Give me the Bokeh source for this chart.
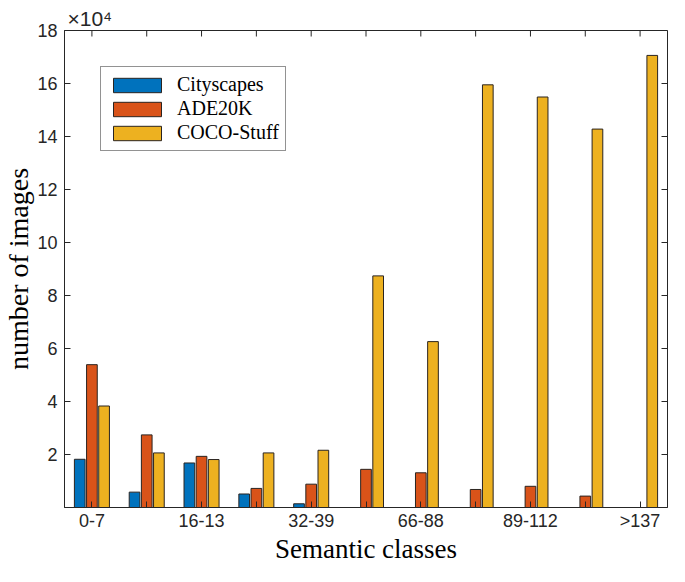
import numpy as np
from bokeh.plotting import figure
from bokeh.models import (Range1d, FixedTicker, Legend, LegendItem, Title)
from bokeh.embed import file_html
from bokeh.resources import INLINE

# ---- data (values in units of 10^4 images) ----
tick_labels = ["0-7", "", "16-13", "", "32-39", "", "66-88", "", "89-112", "", ">137"]
series_names = ["Cityscapes", "ADE20K", "COCO-Stuff"]
cityscapes = [1.82, 0.58, 1.68, 0.51, 0.14, 0.0, 0.0, 0.0, 0.0, 0.0, 0.0]
ade20k = [5.39, 2.74, 1.93, 0.72, 0.88, 1.44, 1.31, 0.68, 0.80, 0.43, 0.0]
coco_stuff = [3.83, 2.06, 1.81, 2.06, 2.16, 8.74, 6.26, 15.95, 15.49, 14.28, 17.06]
y_ticks = [2, 4, 6, 8, 10, 12, 14, 16, 18]

colors = ["#0072BD", "#D95319", "#EDB120"]
offsets = [-0.222, 0.0, 0.222]
bar_w = 0.195
ink = "#262626"

groups = np.arange(1, len(tick_labels) + 1)
labeled = [int(g) for g, lab in zip(groups, tick_labels) if lab]
unlabeled = [int(g) for g, lab in zip(groups, tick_labels) if not lab]

xr = Range1d(0.5, len(tick_labels) + 0.5)
yr = Range1d(0, 18)
p = figure(width=669, height=566, output_backend="svg", toolbar_location=None,
           x_range=xr, y_range=yr,
           min_border_left=64, min_border_right=2, min_border_top=30, min_border_bottom=56)
p.xgrid.visible = False
p.ygrid.visible = False
p.outline_line_color = ink
p.outline_line_width = 1
p.background_fill_color = "white"
p.border_fill_color = "white"

renderers = []
for vals, col, off in zip([cityscapes, ade20k, coco_stuff], colors, offsets):
    r = p.vbar(x=groups + off, top=vals, width=bar_w, bottom=0,
               fill_color=col, line_color="#2a2420", line_width=1)
    renderers.append(r)

# bottom axis: labelled ticks as major, the rest as minor ticks
xa = p.xaxis[0]
xa.ticker = FixedTicker(ticks=labeled, minor_ticks=unlabeled)
xa.major_label_overrides = {int(g): lab for g, lab in zip(groups, tick_labels) if lab}
xa.axis_label = "Semantic classes"
# left axis
ya = p.yaxis[0]
ya.ticker = FixedTicker(ticks=y_ticks)
ya.axis_label = "number of images"

for ax in (xa, ya):
    ax.major_tick_in = 6
    ax.major_tick_out = 0
    ax.minor_tick_in = 6
    ax.minor_tick_out = 0
    ax.minor_tick_line_color = ink
    ax.axis_line_color = ink
    ax.major_tick_line_color = ink
    ax.major_label_text_color = ink
    ax.major_label_text_font = "Liberation Sans"
    ax.major_label_text_font_size = "18px"
    ax.axis_label_text_font = "Liberation Serif"
    ax.axis_label_text_font_style = "normal"
    ax.axis_label_text_color = "black"
    ax.axis_label_standoff = 0
ya.minor_tick_line_color = None
xa.axis_label_text_font_size = "27px"
ya.axis_label_text_font_size = "28px"
xa.major_label_standoff = 3
ya.major_label_standoff = 7

# mirrored inward ticks on the top and right edges (dash markers clipped by the frame)
p.scatter(x=[xr.end] * len(y_ticks), y=y_ticks, marker="dash", size=12,
          line_color=ink, line_width=1)
p.scatter(x=groups, y=[yr.end] * len(groups), marker="dash", angle=np.pi / 2, size=12,
          line_color=ink, line_width=1)

# exponent marker
p.add_layout(Title(text="\u00d710\u2074", align="left", offset=3, standoff=1,
                   text_font="Liberation Sans", text_font_size="21px",
                   text_font_style="normal", text_color=ink), "above")

legend = Legend(items=[LegendItem(label=n, renderers=[r]) for n, r in zip(series_names, renderers)],
                location="top_left")
legend.label_text_font = "Liberation Serif"
legend.label_text_font_size = "20px"
legend.label_text_color = "black"
legend.glyph_width = 60
legend.glyph_height = 18
legend.label_height = 18
legend.label_standoff = 10
legend.spacing = 1
legend.padding = 6
legend.margin = 36
legend.border_line_color = ink
legend.border_line_width = 1
legend.background_fill_alpha = 1
p.add_layout(legend, "center")

open("out.html", "w").write(file_html(p, INLINE))
